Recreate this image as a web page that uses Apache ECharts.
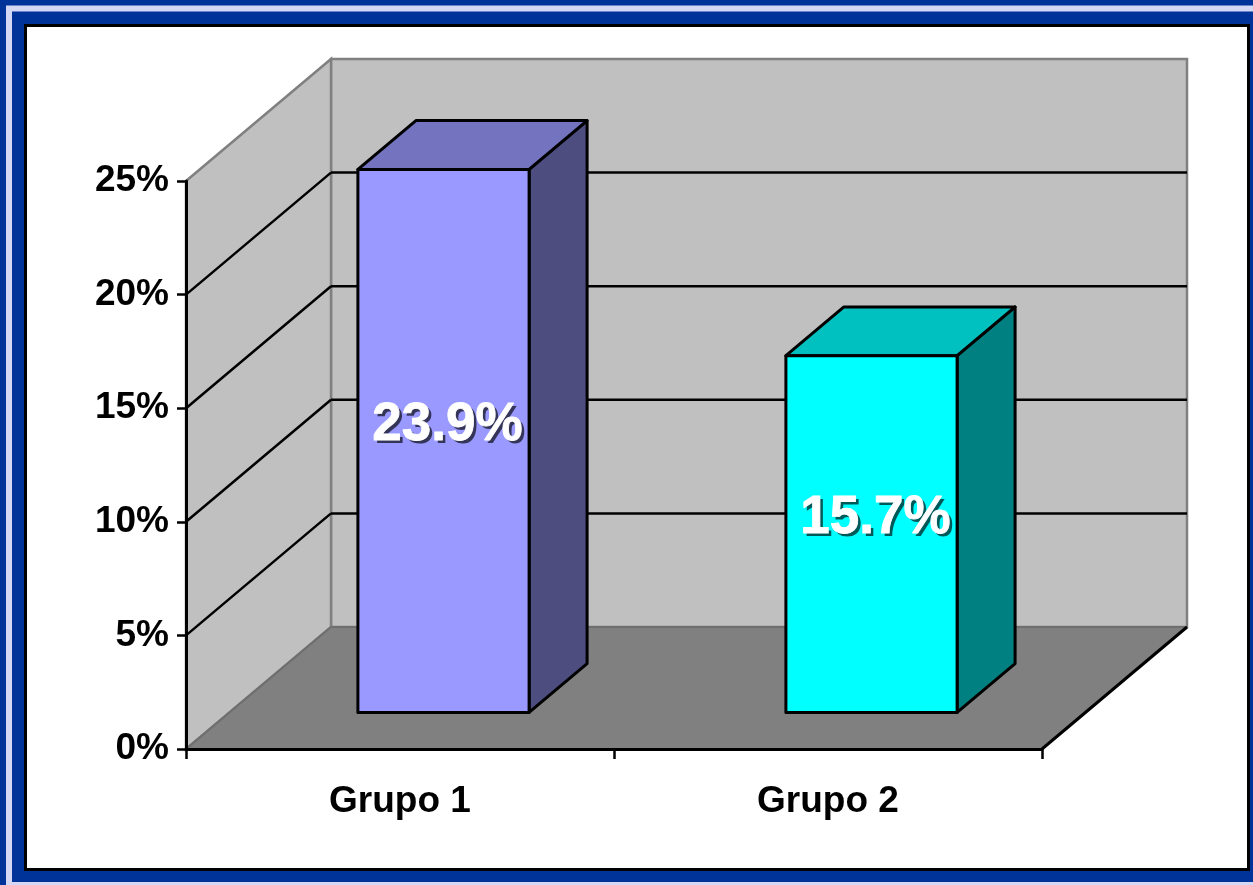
<!DOCTYPE html>
<html>
<head>
<meta charset="utf-8">
<script src="https://cdn.jsdelivr.net/npm/echarts@6/dist/echarts.min.js"></script>
<style>
html, body { margin: 0; padding: 0; background: #00339a; }
#chart { width: 1253px; height: 885px; }
</style>
</head>
<body>
<div id="chart"></div>
<script>
// Chart data
const categories = ['Grupo 1', 'Grupo 2'];
const values = [23.9, 15.7];
const yTickValues = [0, 5, 10, 15, 20, 25];
const gridValues = [5, 10, 15, 20];

// Bar face colours (front, top, side) per category
const frontColors = ['#9999ff', '#00ffff'];
const topColors = ['#7373bf', '#00c0c0'];
const sideColors = ['#4d4d80', '#008080'];

// Oblique projection of the depth axis, in pixels
const DX = 145, DY = -122;
const D0 = 0.3, D1 = 0.7;   // bar front / back depth fractions
const FONT = '"Liberation Sans", Arial, sans-serif';

const chart = echarts.init(document.getElementById('chart'));

function wallsItem(params, api) {
  const cs = params.coordSys;
  const x0 = cs.x, x1 = cs.x + cs.width, yT = cs.y, yB = cs.y + cs.height;
  return {
    type: 'group',
    children: [
      { type: 'polygon', shape: { points: [[x0 + DX, yT + DY], [x1 + DX, yT + DY], [x1 + DX, yB + DY], [x0 + DX, yB + DY]] },
        style: { fill: '#c0c0c0', stroke: '#808080', lineWidth: 2.5 } },
      { type: 'polygon', shape: { points: [[x0, yT], [x0 + DX, yT + DY], [x0 + DX, yB + DY], [x0, yB]] },
        style: { fill: '#c0c0c0', stroke: '#808080', lineWidth: 2.5 } },
      { type: 'polygon', shape: { points: [[x0, yB], [x1, yB], [x1 + DX, yB + DY], [x0 + DX, yB + DY]] },
        style: { fill: '#808080', stroke: null } },
      { type: 'line', shape: { x1: x0, y1: yB, x2: x0 + DX, y2: yB + DY },
        style: { stroke: '#6e6e6e', lineWidth: 2 } },
      { type: 'line', shape: { x1: x0 + DX, y1: yB + DY, x2: x1 + DX, y2: yB + DY },
        style: { stroke: '#6e6e6e', lineWidth: 2 } },
      { type: 'line', shape: { x1: x1, y1: yB, x2: x1 + DX, y2: yB + DY },
        style: { stroke: '#000', lineWidth: 3 } }
    ]
  };
}

function gridItem(params, api) {
  const cs = params.coordSys;
  const x0 = cs.x, x1 = cs.x + cs.width;
  const y = api.coord([0, api.value(1)])[1];
  return {
    type: 'group',
    children: [
      { type: 'line', shape: { x1: x0 + DX, y1: y + DY, x2: x1 + DX, y2: y + DY },
        style: { stroke: '#000', lineWidth: 2.5 } },
      { type: 'line', shape: { x1: x0, y1: y, x2: x0 + DX, y2: y + DY },
        style: { stroke: '#000', lineWidth: 2.5 } }
    ]
  };
}

function barItem(params, api) {
  const i = api.value(0), v = api.value(1);
  const topPt = api.coord([i, v]);
  const basePt = api.coord([i, 0]);
  const w = api.size([1, 0])[0] * 0.4;
  const L = topPt[0] - w / 2 + DX * D0, R = L + w;
  const T = topPt[1] + DY * D0, B = basePt[1] + DY * D0;
  const bx = DX * (D1 - D0), by = DY * (D1 - D0);
  const edge = { stroke: '#000', lineWidth: 3, lineJoin: 'round' };
  const cx = (L + R) / 2 + 4, cy = (T + B) / 2 - 16;
  const txt = v.toFixed(1) + '%';
  return {
    type: 'group',
    children: [
      { type: 'polygon', shape: { points: [[R, T], [R + bx, T + by], [R + bx, B + by], [R, B]] },
        style: Object.assign({ fill: sideColors[i] }, edge) },
      { type: 'polygon', shape: { points: [[L, T], [L + bx, T + by], [R + bx, T + by], [R, T]] },
        style: Object.assign({ fill: topColors[i] }, edge) },
      { type: 'rect', shape: { x: L, y: T, width: w, height: B - T },
        style: Object.assign({ fill: frontColors[i] }, edge) },
      { type: 'text', x: cx + 3, y: cy + 3,
        style: { text: txt, fill: 'rgba(0,0,0,0.65)', font: 'bold 53px ' + FONT, align: 'center', verticalAlign: 'middle' } },
      { type: 'text', x: cx, y: cy,
        style: { text: txt, fill: '#ffffff', stroke: '#ffffff', lineWidth: 0.8, font: 'bold 53px ' + FONT, align: 'center', verticalAlign: 'middle' } }
    ]
  };
}

chart.setOption({
  backgroundColor: '#00339a',
  animation: false,
  graphic: [
    { type: 'rect', z: 0, shape: { x: 9, y: 8.5, width: 1260, height: 876.5 },
      style: { fill: null, stroke: '#d4d8f4', lineWidth: 6 } },
    { type: 'rect', z: 0, shape: { x: 25.5, y: 25.5, width: 1223, height: 844 },
      style: { fill: '#ffffff', stroke: '#000000', lineWidth: 3 } }
  ],
  grid: { left: 186, right: 211, top: 181, bottom: 136 },
  xAxis: {
    type: 'category',
    data: categories,
    z: 10,
    axisLine: { show: true, lineStyle: { color: '#000', width: 3 } },
    axisTick: { show: true, length: 10, lineStyle: { color: '#000', width: 2.5 } },
    axisLabel: { color: '#000', fontSize: 37, fontWeight: 'bold', fontFamily: FONT, margin: 34 }
  },
  yAxis: {
    type: 'value',
    min: yTickValues[0],
    max: yTickValues[yTickValues.length - 1],
    interval: 5,
    z: 10,
    splitLine: { show: false },
    axisLine: { show: true, lineStyle: { color: '#000', width: 3 } },
    axisTick: { show: true, length: 9, lineStyle: { color: '#000', width: 2.5 } },
    axisLabel: { color: '#000', fontSize: 37, fontWeight: 'bold', fontFamily: FONT, margin: 17, formatter: '{value}%' }
  },
  series: [
    { type: 'custom', z: 2, renderItem: wallsItem, data: [[0, 0]], silent: true },
    { type: 'custom', z: 3, renderItem: gridItem, data: gridValues.map(v => [0, v]), silent: true },
    { type: 'custom', z: 4, renderItem: barItem, data: values.map((v, i) => [i, v]) }
  ]
});
</script>
</body>
</html>
